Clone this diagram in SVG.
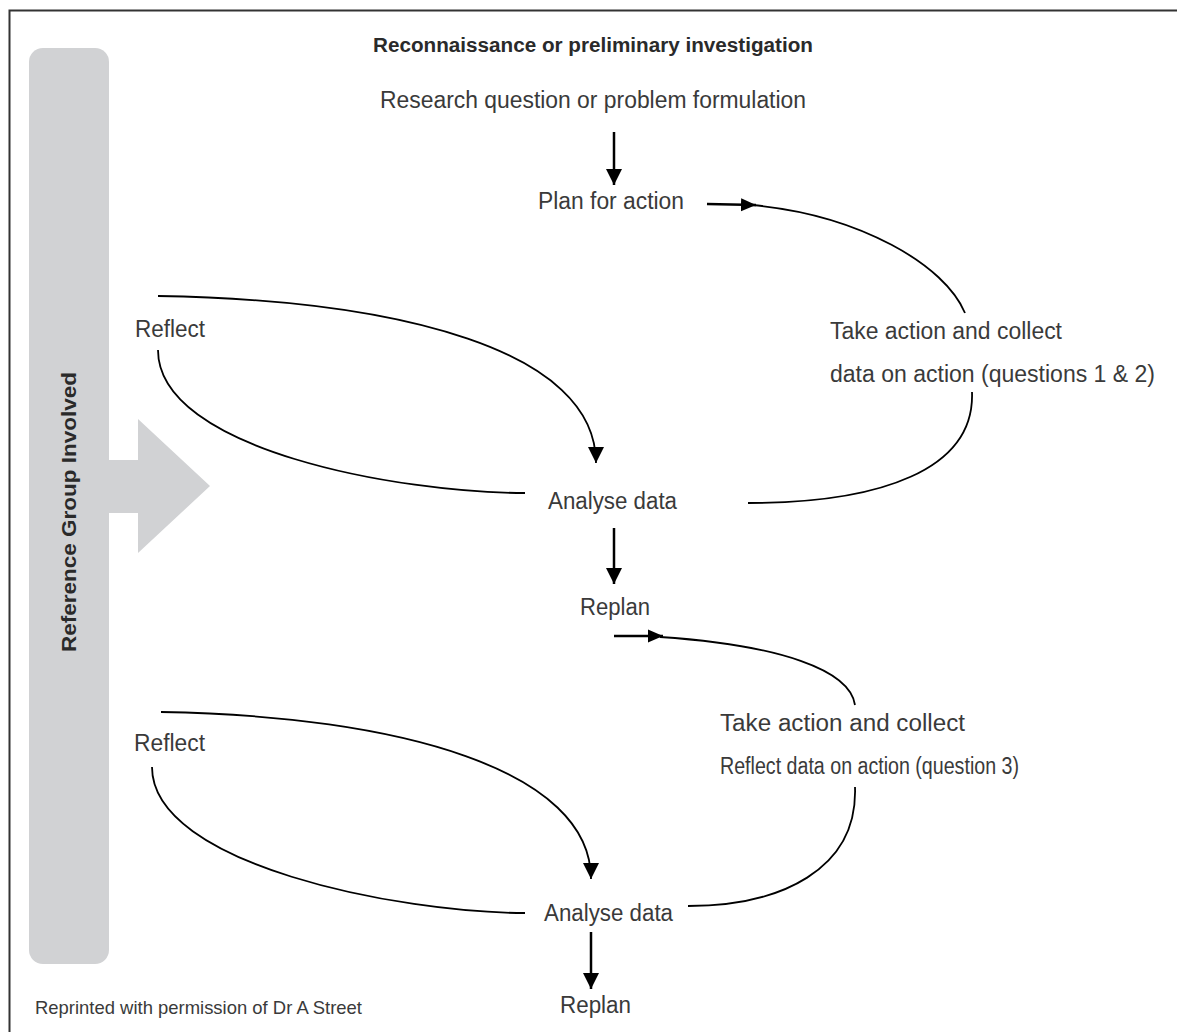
<svg xmlns="http://www.w3.org/2000/svg" width="1177" height="1032" viewBox="0 0 1177 1032">
<style>
.t{font-family:"Liberation Sans",Arial,sans-serif;font-size:23px;fill:#3a3a3a}
.b{font-family:"Liberation Sans",Arial,sans-serif;font-size:20px;font-weight:bold;fill:#2a2a2a}
.c{fill:none;stroke:#000;stroke-width:1.8}
.a{fill:none;stroke:#000;stroke-width:2.5}
</style>
<defs>
<marker id="ah" markerWidth="16" markerHeight="18" refX="16" refY="9" orient="auto" markerUnits="userSpaceOnUse">
<path d="M0,1 L16,9 L0,17 Z" fill="#000"/>
</marker>
<marker id="ah2" markerWidth="15" markerHeight="14" refX="15" refY="7" orient="auto" markerUnits="userSpaceOnUse">
<path d="M0,0.5 L15,7 L0,13.5 Z" fill="#000"/>
</marker>
</defs>
<rect x="9.5" y="10.5" width="1200" height="1100" fill="#fff" stroke="#333" stroke-width="2"/>
<g id="reference-group">
<rect x="29" y="48" width="80" height="916" rx="14" fill="#d1d2d4"/>
<path d="M109,460 L138,460 L138,419 L210,486 L138,553 L138,513 L109,513 Z" fill="#d1d2d4"/>
<text class="b" transform="translate(76,512) rotate(-90)" text-anchor="middle" textLength="280" lengthAdjust="spacingAndGlyphs">Reference Group Involved</text>
</g>
<g id="title"><text class="b" x="373" y="52" textLength="440" lengthAdjust="spacingAndGlyphs">Reconnaissance or preliminary investigation</text></g>
<g id="research"><text class="t" x="380" y="108" textLength="426" lengthAdjust="spacingAndGlyphs">Research question or problem formulation</text></g>
<g id="plan"><text class="t" x="538" y="209" textLength="146" lengthAdjust="spacingAndGlyphs">Plan for action</text></g>
<g id="reflect1"><text class="t" x="135" y="337" textLength="70" lengthAdjust="spacingAndGlyphs">Reflect</text></g>
<g id="action1">
<text class="t" x="830" y="339" textLength="232" lengthAdjust="spacingAndGlyphs">Take action and collect</text>
<text class="t" x="830" y="382" textLength="325" lengthAdjust="spacingAndGlyphs">data on action (questions 1 &amp; 2)</text>
</g>
<g id="analyse1"><text class="t" x="548" y="509" textLength="129" lengthAdjust="spacingAndGlyphs">Analyse data</text></g>
<g id="replan1"><text class="t" x="580" y="615" textLength="70" lengthAdjust="spacingAndGlyphs">Replan</text></g>
<g id="action2">
<text class="t" x="720" y="731" textLength="245" lengthAdjust="spacingAndGlyphs">Take action and collect</text>
<text class="t" x="720" y="774" textLength="299" lengthAdjust="spacingAndGlyphs">Reflect data on action (question 3)</text>
</g>
<g id="reflect2"><text class="t" x="134" y="751" textLength="71" lengthAdjust="spacingAndGlyphs">Reflect</text></g>
<g id="analyse2"><text class="t" x="544" y="921" textLength="129" lengthAdjust="spacingAndGlyphs">Analyse data</text></g>
<g id="replan2"><text class="t" x="560" y="1013" textLength="71" lengthAdjust="spacingAndGlyphs">Replan</text></g>
<g id="credit"><text class="t" x="35" y="1014" style="font-size:19px" textLength="327" lengthAdjust="spacingAndGlyphs">Reprinted with permission of Dr A Street</text></g>
<g id="connectors">
<line class="a" x1="614" y1="132" x2="614" y2="185" marker-end="url(#ah)"/>
<line class="a" x1="707" y1="204" x2="756" y2="205" marker-end="url(#ah2)"/>
<path class="c" d="M752,205 C860,215 945,265 965,313"/>
<path class="c" d="M972,392 C975,470 880,503 748,503"/>
<path class="c" d="M158,296 C400,300 596,350 596,463" marker-end="url(#ah)"/>
<path class="c" d="M158,350 C158,450 400,493 525,493"/>
<line class="a" x1="614" y1="528" x2="614" y2="584" marker-end="url(#ah)"/>
<line class="a" x1="614" y1="636" x2="663" y2="636" marker-end="url(#ah2)"/>
<path class="c" d="M660,637 C780,645 850,670 855,705"/>
<path class="c" d="M855,787 C858,870 780,906 688,906"/>
<path class="c" d="M161,712 C400,716 591,770 591,879" marker-end="url(#ah)"/>
<path class="c" d="M152,767 C152,865 400,913 525,913"/>
<line class="a" x1="591" y1="932" x2="591" y2="989" marker-end="url(#ah)"/>
</g>
</svg>
